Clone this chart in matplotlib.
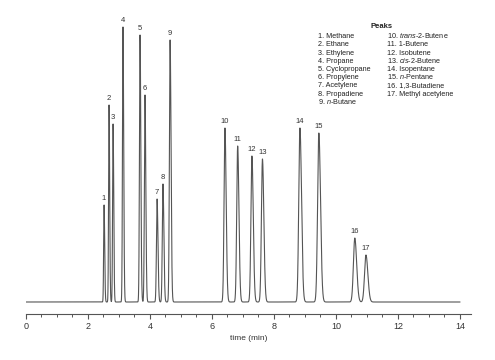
import matplotlib
matplotlib.use('Agg')
import matplotlib.pyplot as plt
import numpy as np
from matplotlib.ticker import MultipleLocator

plt.rcParams['font.family'] = ['Liberation Sans', 'DejaVu Sans']
plt.rcParams['mathtext.fontset'] = 'custom'
plt.rcParams['mathtext.rm'] = 'Liberation Sans'
plt.rcParams['mathtext.it'] = 'Liberation Sans:italic'

# peak retention times (min) and heights (arbitrary units)
peak_ids = list(range(1, 18))
ret_times = [2.52, 2.68, 2.81, 3.13, 3.68, 3.84, 4.23, 4.42, 4.65,
             6.42, 6.83, 7.29, 7.63, 8.84, 9.45, 10.61, 10.97]
heights = [97, 197, 178, 275, 267, 207, 103, 118, 262,
           174, 156, 146, 143, 174, 169, 64, 47]

names_left = ['1. Methane', '2. Ethane', '3. Ethylene', '4. Propane',
              '5. Cyclopropane', '6. Propylene', '7. Acetylene',
              '8. Propadiene', '9. $\\it{n}$-Butane']
names_right = ['10. $\\it{trans}$-2-Butene', '11. 1-Butene', '12. Isobutene',
               '13. $\\it{cis}$-2-Butene', '14. Isopentane', '15. $\\it{n}$-Pentane',
               '16. 1,3-Butadiene', '17. Methyl acetylene']

t = np.linspace(0, 14, 14001)
signal = np.zeros_like(t)
for rt, h in zip(ret_times, heights):
    s = 0.005 + 0.0037 * rt
    sig = np.where(t < rt, s, s * 1.35)
    signal += h * np.exp(-0.5 * ((t - rt) / sig) ** 2)

fig = plt.figure(figsize=(4.95, 3.6), dpi=100)
ax = fig.add_axes([26 / 495, 1 - 314 / 360, 444.7 / 495, 294 / 360])
ax.plot(t, signal, color='#555555', lw=0.8)
ax.set_xlim(0, 14.35)
ax.set_ylim(-12, 282)

for pid, rt, h in zip(peak_ids, ret_times, heights):
    ax.annotate(str(pid), (rt, h), xytext=(0, 2), textcoords='offset points',
                ha='center', va='bottom', fontsize=5.5, color='#333333')

for s in ['top', 'right', 'left']:
    ax.spines[s].set_visible(False)
ax.spines['bottom'].set_color('#555555')
ax.spines['bottom'].set_linewidth(0.8)
ax.set_yticks([])
ax.xaxis.set_major_locator(MultipleLocator(2))
ax.xaxis.set_minor_locator(MultipleLocator(0.5))
ax.tick_params(axis='x', which='major', length=3.6, width=0.8, color='#555555',
               labelsize=6.5, labelcolor='#333333', pad=2)
ax.tick_params(axis='x', which='minor', length=2, width=0.7, color='#555555')
ax.set_xlabel('time (min)', fontsize=6, color='#333333', labelpad=3)

# legend block
fig.text(382 / 495, 1 - 27 / 360, 'Peaks', fontsize=5.5, fontweight='bold',
         ha='center', va='center', color='#222222')
for i, n in enumerate(names_left):
    fig.text(318 / 495, 1 - (38.2 + 8.2 * i) / 360, n, fontsize=5.2,
             ha='left', va='baseline', color='#222222')
for i, n in enumerate(names_right):
    fig.text(387 / 495, 1 - (38.2 + 8.2 * i) / 360, n, fontsize=5.2,
             ha='left', va='baseline', color='#222222')

fig.savefig('out.png', dpi=100)
